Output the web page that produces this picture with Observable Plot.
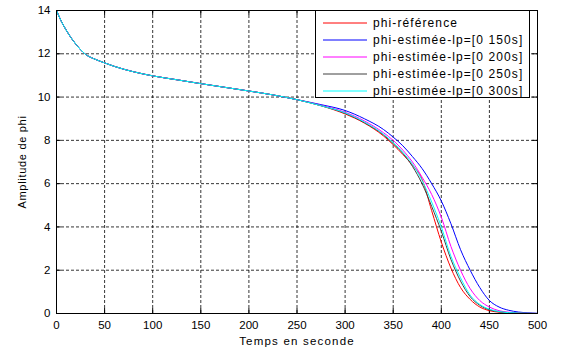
<!DOCTYPE html>
<html><head><meta charset="utf-8">
<script src="https://cdn.jsdelivr.net/npm/d3@7"></script>
<script src="https://cdn.jsdelivr.net/npm/@observablehq/plot@0.6"></script>
<style>
body{margin:0;background:#fff;font-family:"Liberation Sans",Arial,sans-serif;}
#wrap{position:relative;width:563px;height:352px;}
#legend{position:absolute;left:315px;top:10px;width:215px;height:88px;border:1px solid #000;background:#fff;box-sizing:border-box;padding-top:3px;}
.row{display:flex;align-items:center;height:17px;font-size:12px;letter-spacing:1.1px;color:#000;white-space:nowrap;}
.row svg{margin-left:7px;margin-right:6px;}
g[aria-label="x-axis label"] text{letter-spacing:1.2px;}
g[aria-label="y-axis label"] text{letter-spacing:0.7px;}
</style></head>
<body><div id="wrap"></div>
<script>
const times = [0,5,10,15,20,30,40,50,60,80,100,125,150,175,200,225,250,275,300,320,340,350,360,370,380,390,400,410,420,430,440,450,460,470,480,490,500];
const common = [14,13.5,13.1,12.75,12.45,11.98,11.75,11.58,11.42,11.17,10.98,10.8,10.62,10.45,10.28,10.1,9.88];
const refTail  = [9.6,9.22,8.8,8.2,7.8,7.35,6.85,6.2,4.75,3.3,2.1,1.2,0.65,0.3,0.13,0.06,0.03,0.01,0.005,0];
const lp150Tail = [9.65,9.38,9.0,8.5,8.15,7.75,7.25,6.7,6.0,5.2,4.15,2.95,2.0,1.2,0.6,0.3,0.15,0.07,0.03,0.01];
const lp200Tail = [9.62,9.3,8.9,8.35,8.0,7.55,7.0,6.3,5.5,4.45,3.1,2.0,1.15,0.6,0.3,0.13,0.06,0.03,0.01,0];
const lp250Tail = [9.6,9.25,8.82,8.25,7.85,7.4,6.8,6.0,4.95,3.8,2.5,1.5,0.78,0.38,0.17,0.08,0.04,0.02,0.01,0];
const lp300Tail = [9.6,9.27,8.85,8.28,7.9,7.45,6.9,6.15,5.15,4.0,2.65,1.65,0.85,0.42,0.2,0.09,0.04,0.02,0.01,0];
const seriesNames = ["phi-référence","phi-estimée-lp=[0 150s]","phi-estimée-lp=[0 200s]","phi-estimée-lp=[0 250s]","phi-estimée-lp=[0 300s]"];
const seriesColors = ["#ff0000","#0000ff","#ff00ff","#404040","#00ffff"];
const tails = [refTail, lp150Tail, lp200Tail, lp250Tail, lp300Tail];
const xTicks = [0,50,100,150,200,250,300,350,400,450,500];
const yTicks = [0,2,4,6,8,10,12,14];

const data = [];
tails.forEach((tail, s) => {
  const vals = common.concat(tail);
  times.forEach((t, i) => data.push({t, v: vals[i], s: seriesNames[s]}));
});

const chart = Plot.plot({
  width: 563, height: 352,
  marginLeft: 56, marginRight: 26, marginTop: 10, marginBottom: 39,
  style: {fontFamily: "'Liberation Sans', Arial, sans-serif", fontSize: "11px", background: "#fff"},
  x: {domain: [0, 500], ticks: xTicks, label: null},
  y: {domain: [0, 14], ticks: yTicks, label: null},
  color: {domain: seriesNames, range: seriesColors},
  marks: [
    Plot.gridX(xTicks, {stroke: "#000", strokeOpacity: 1, strokeDasharray: "3,2", strokeWidth: 0.8}),
    Plot.gridY(yTicks, {stroke: "#000", strokeOpacity: 1, strokeDasharray: "3,2", strokeWidth: 0.8}),
    Plot.ruleX(xTicks, {x: d => d, y1: 0, y2: 0.23, stroke: "#000"}),
    Plot.ruleX(xTicks, {x: d => d, y1: 13.77, y2: 14, stroke: "#000"}),
    Plot.ruleY(yTicks, {y: d => d, x1: 0, x2: 5, stroke: "#000"}),
    Plot.ruleY(yTicks, {y: d => d, x1: 495, x2: 500, stroke: "#000"}),
    Plot.axisX(xTicks, {tickSize: 0, tickPadding: 7, fontSize: 11.5, label: null}),
    Plot.axisX({tickSize: 0, ticks: [], label: "Temps en seconde", labelAnchor: "center", labelArrow: "none", labelOffset: 31, fontSize: 11.5}),
    Plot.axisY(yTicks, {tickSize: 0, tickPadding: 6, fontSize: 11.5, label: null}),
    Plot.axisY({tickSize: 0, ticks: [], label: "Amplitude de phi", labelAnchor: "center", labelArrow: "none", labelOffset: 38, fontSize: 11}),
    Plot.line(data, {x: "t", y: "v", z: "s", stroke: "s", strokeWidth: 1, curve: "monotone-x"}),
    Plot.frame({stroke: "#000"})
  ]
});
const wrap = document.getElementById("wrap");
wrap.appendChild(chart);

const legend = document.createElement("div");
legend.id = "legend";
seriesNames.forEach((n, i) => {
  const row = document.createElement("div");
  row.className = "row";
  row.innerHTML = `<svg width="44" height="4"><line x1="0" y1="2" x2="44" y2="2" stroke="${seriesColors[i]}" stroke-width="1"/></svg><span>${n}</span>`;
  legend.appendChild(row);
});
wrap.appendChild(legend);
</script>
</body></html>
